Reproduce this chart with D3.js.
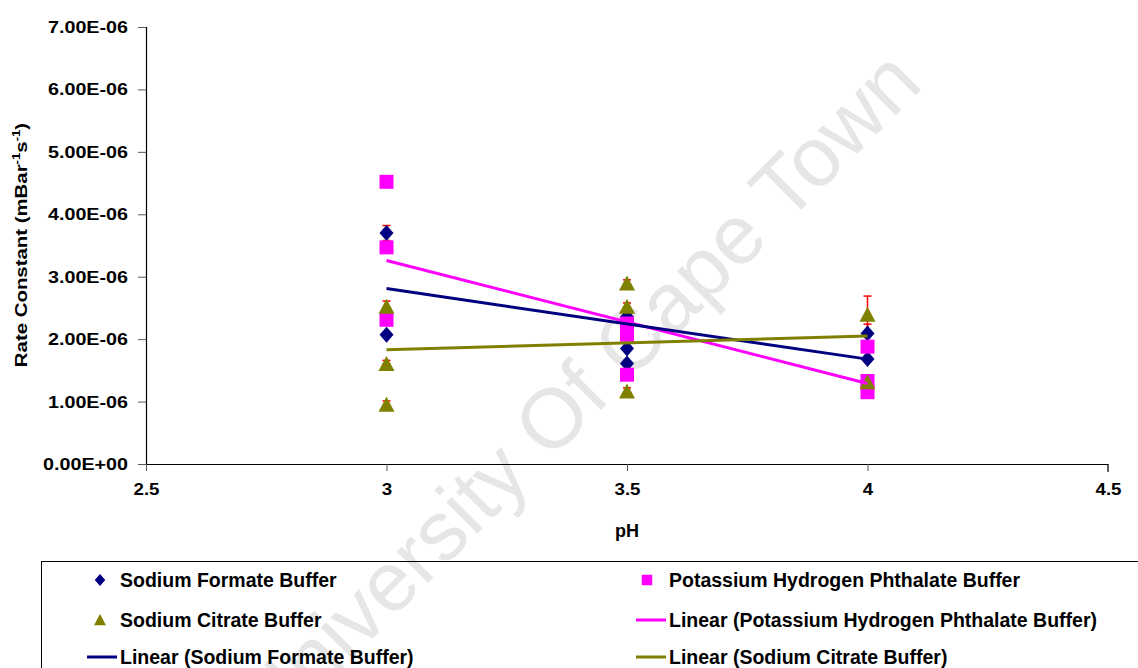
<!DOCTYPE html>
<html>
<head>
<meta charset="utf-8">
<script src="https://cdn.jsdelivr.net/npm/d3@7"></script>
<style>
body{margin:0;background:#fff;}
svg{display:block;font-family:"Liberation Sans",Arial,sans-serif;}
</style>
</head>
<body>
<div id="canvas"></div>
<script>
// pH values and rate constants (x1e-6 mBar^-1 s^-1) per buffer
let formate_ph = [3, 3, 3.5, 3.5, 3.5, 4, 4],
formate_k = [3.70, 2.07, 2.36, 1.85, 1.61, 2.09, 1.68];

let khp_ph = [3, 3, 3, 3.5, 3.5, 3.5, 4, 4, 4],
khp_k = [4.52, 3.47, 2.31, 2.25, 2.07, 1.43, 1.88, 1.33, 1.15];

let citrate_ph = [3, 3, 3, 3.5, 3.5, 3.5, 4, 4],
citrate_k = [2.52, 1.60, 0.95, 2.89, 2.52, 1.16, 2.39, 1.31];

// error bars: pH, value, +/- error
let err_ph = [3, 4, 3, 3, 3, 3.5, 3.5, 3.5, 4],
err_k = [3.70, 2.09, 2.52, 1.60, 0.95, 2.89, 2.52, 1.16, 2.39],
err_size = [0.12, 0.15, 0.09, 0.06, 0.06, 0.06, 0.06, 0.06, 0.30];

// linear trendlines read at pH 3 and pH 4
let trend_ph = [3, 4],
trend_khp = [3.26, 1.29],
trend_formate = [2.81, 1.68],
trend_citrate = [1.83, 2.05];

let x_ticks = [2.5, 3, 3.5, 4, 4.5],
y_ticks = [0, 1, 2, 3, 4, 5, 6, 7];

let svg_w = 1138, svg_h = 668,
p_left = 146, p_right = 1108, p_top = 27, p_bottom = 464;

let canvas = d3.select('#canvas').append('svg').attr('width', svg_w).attr('height', svg_h);

let x = d3.scaleLinear().domain([2.5, 4.5]).range([p_left, p_right]),
y = d3.scaleLinear().domain([0, 7]).range([p_bottom, p_top]);

let navy = '#000080', pink = '#FF00FF', olive = '#808000', red = '#FF0000';

//watermark
canvas.append('text')
.attr('transform', 'translate(578,392) rotate(-45)')
.attr('text-anchor', 'middle')
.attr('dominant-baseline', 'central')
.style('font-size', '84px')
.style('fill', '#e6e6e6')
.text('University Of Cape Town');

//stretch a text horizontally like the reference rendering
function stretch(sel, factor){
	sel.each(function(){
		let w = this.getComputedTextLength();
		d3.select(this).attr('textLength', w * factor).attr('lengthAdjust', 'spacingAndGlyphs');
	});
}

//y axis
let yAxis = canvas.append('g')
.attr('transform', 'translate(' + p_left + ',0)')
.call(d3.axisLeft(y).tickValues(y_ticks).tickSize(8).tickPadding(10)
	.tickFormat(d => d == 0 ? '0.00E+00' : d.toFixed(2) + 'E-06'));

//x axis
let xAxis = canvas.append('g')
.attr('transform', 'translate(0,' + p_bottom + ')')
.call(d3.axisBottom(x).tickValues(x_ticks).tickSize(7).tickPadding(12)
	.tickFormat(d => d));

[yAxis, xAxis].forEach(a => {
	a.select('.domain').attr('stroke', '#000').attr('stroke-width', 1.2);
	a.selectAll('.tick line').attr('stroke', '#555');
	a.selectAll('.tick text')
	.style('font-size', '17px')
	.style('font-weight', 'bold')
	.style('font-family', '"Liberation Sans",Arial,sans-serif')
	.attr('fill', '#000');
});
stretch(yAxis.selectAll('.tick text'), 1.16);
stretch(xAxis.selectAll('.tick text'), 1.1);
// the axis lines are drawn without outer ticks on the far ends
yAxis.select('.domain').attr('d', 'M0.5,' + p_top + 'V' + p_bottom);
xAxis.select('.domain').attr('d', 'M' + p_left + ',0.5H' + p_right + 'V8');

//axis titles
canvas.append('text')
.attr('x', x(3.5))
.attr('y', 537)
.attr('text-anchor', 'middle')
.style('font-size', '18px')
.style('font-weight', 'bold')
.text('pH');

let ytitle = canvas.append('text')
.attr('transform', 'translate(27,245) rotate(-90) scale(1.2,1)')
.attr('text-anchor', 'middle')
.style('font-size', '17px')
.style('font-weight', 'bold');
ytitle.append('tspan').text('Rate Constant (mBar');
ytitle.append('tspan').attr('dy', -7).style('font-size', '11px').text('-1');
ytitle.append('tspan').attr('dy', 7).text('s');
ytitle.append('tspan').attr('dy', -7).style('font-size', '11px').text('-1');
ytitle.append('tspan').attr('dy', 7).text(')');

//error bars, behind the markers
let errs = err_ph.map((d, i) => ({ph: d, k: err_k[i], e: err_size[i]}));
let eb = canvas.append('g').selectAll('g').data(errs).enter().append('g')
.attr('stroke', red).attr('stroke-width', 1.5);
eb.append('line')
.attr('x1', d => x(d.ph)).attr('x2', d => x(d.ph))
.attr('y1', d => y(d.k - d.e)).attr('y2', d => y(d.k + d.e));
eb.append('line')
.attr('x1', d => x(d.ph) - 4).attr('x2', d => x(d.ph) + 4)
.attr('y1', d => y(d.k + d.e)).attr('y2', d => y(d.k + d.e));
eb.append('line')
.attr('x1', d => x(d.ph) - 4).attr('x2', d => x(d.ph) + 4)
.attr('y1', d => y(d.k - d.e)).attr('y2', d => y(d.k - d.e));

let diamond = 'M0,-8L7,0L0,8L-7,0Z',
square = 'M-7,-7H7V7H-7Z',
triangle = 'M0,-8L8,7H-8Z';

function draw_points(ph, k, path, color){
	canvas.append('g').selectAll('path')
	.data(ph.map((d, i) => [d, k[i]]))
	.enter()
	.append('path')
	.attr('d', path)
	.attr('transform', d => 'translate(' + x(d[0]) + ',' + y(d[1]) + ')')
	.style('fill', color);
}
draw_points(formate_ph, formate_k, diamond, navy);
draw_points(khp_ph, khp_k, square, pink);
draw_points(citrate_ph, citrate_k, triangle, olive);

//trendlines
let line = d3.line().x(d => x(d[0])).y(d => y(d[1]));
[[trend_khp, pink], [trend_formate, navy], [trend_citrate, olive]].forEach(t => {
	canvas.append('path')
	.attr('d', line(trend_ph.map((d, i) => [d, t[0][i]])))
	.style('fill', 'none')
	.style('stroke', t[1])
	.style('stroke-width', 3);
});

//legend
let legend = canvas.append('g');
legend.append('rect')
.attr('x', 41.5).attr('y', 561.5)
.attr('width', 1120).attr('height', 140)
.style('fill', 'none')
.style('stroke', '#000')
.style('stroke-width', 1);

let legend_items = [
	{label: 'Sodium Formate Buffer', type: 'mark', path: diamond, color: navy, col: 0, row: 0},
	{label: 'Potassium Hydrogen Phthalate Buffer', type: 'mark', path: square, color: pink, col: 1, row: 0},
	{label: 'Sodium Citrate Buffer', type: 'mark', path: triangle, color: olive, col: 0, row: 1},
	{label: 'Linear (Potassium Hydrogen Phthalate Buffer)', type: 'line', color: pink, col: 1, row: 1},
	{label: 'Linear (Sodium Formate Buffer)', type: 'line', color: navy, col: 0, row: 2},
	{label: 'Linear (Sodium Citrate Buffer)', type: 'line', color: olive, col: 1, row: 2}
];
let col_x = [87, 636], row_y = [580, 620, 657];

legend_items.forEach(d => {
	let lx = col_x[d.col], ly = row_y[d.row];
	if(d.type == 'mark'){
		legend.append('path')
		.attr('d', d.path)
		.attr('transform', 'translate(' + (lx + (d.col ? 11 : 13)) + ',' + ly + ') scale(0.75)')
		.style('fill', d.color);
	}else{
		legend.append('line')
		.attr('x1', lx).attr('x2', lx + 30)
		.attr('y1', ly).attr('y2', ly)
		.style('stroke', d.color)
		.style('stroke-width', 3);
	}
	legend.append('text')
	.attr('x', lx + 33)
	.attr('y', ly)
	.attr('dominant-baseline', 'central')
	.style('font-size', '19.5px')
	.style('font-weight', 'bold')
	.text(d.label);
});
</script>
</body>
</html>
